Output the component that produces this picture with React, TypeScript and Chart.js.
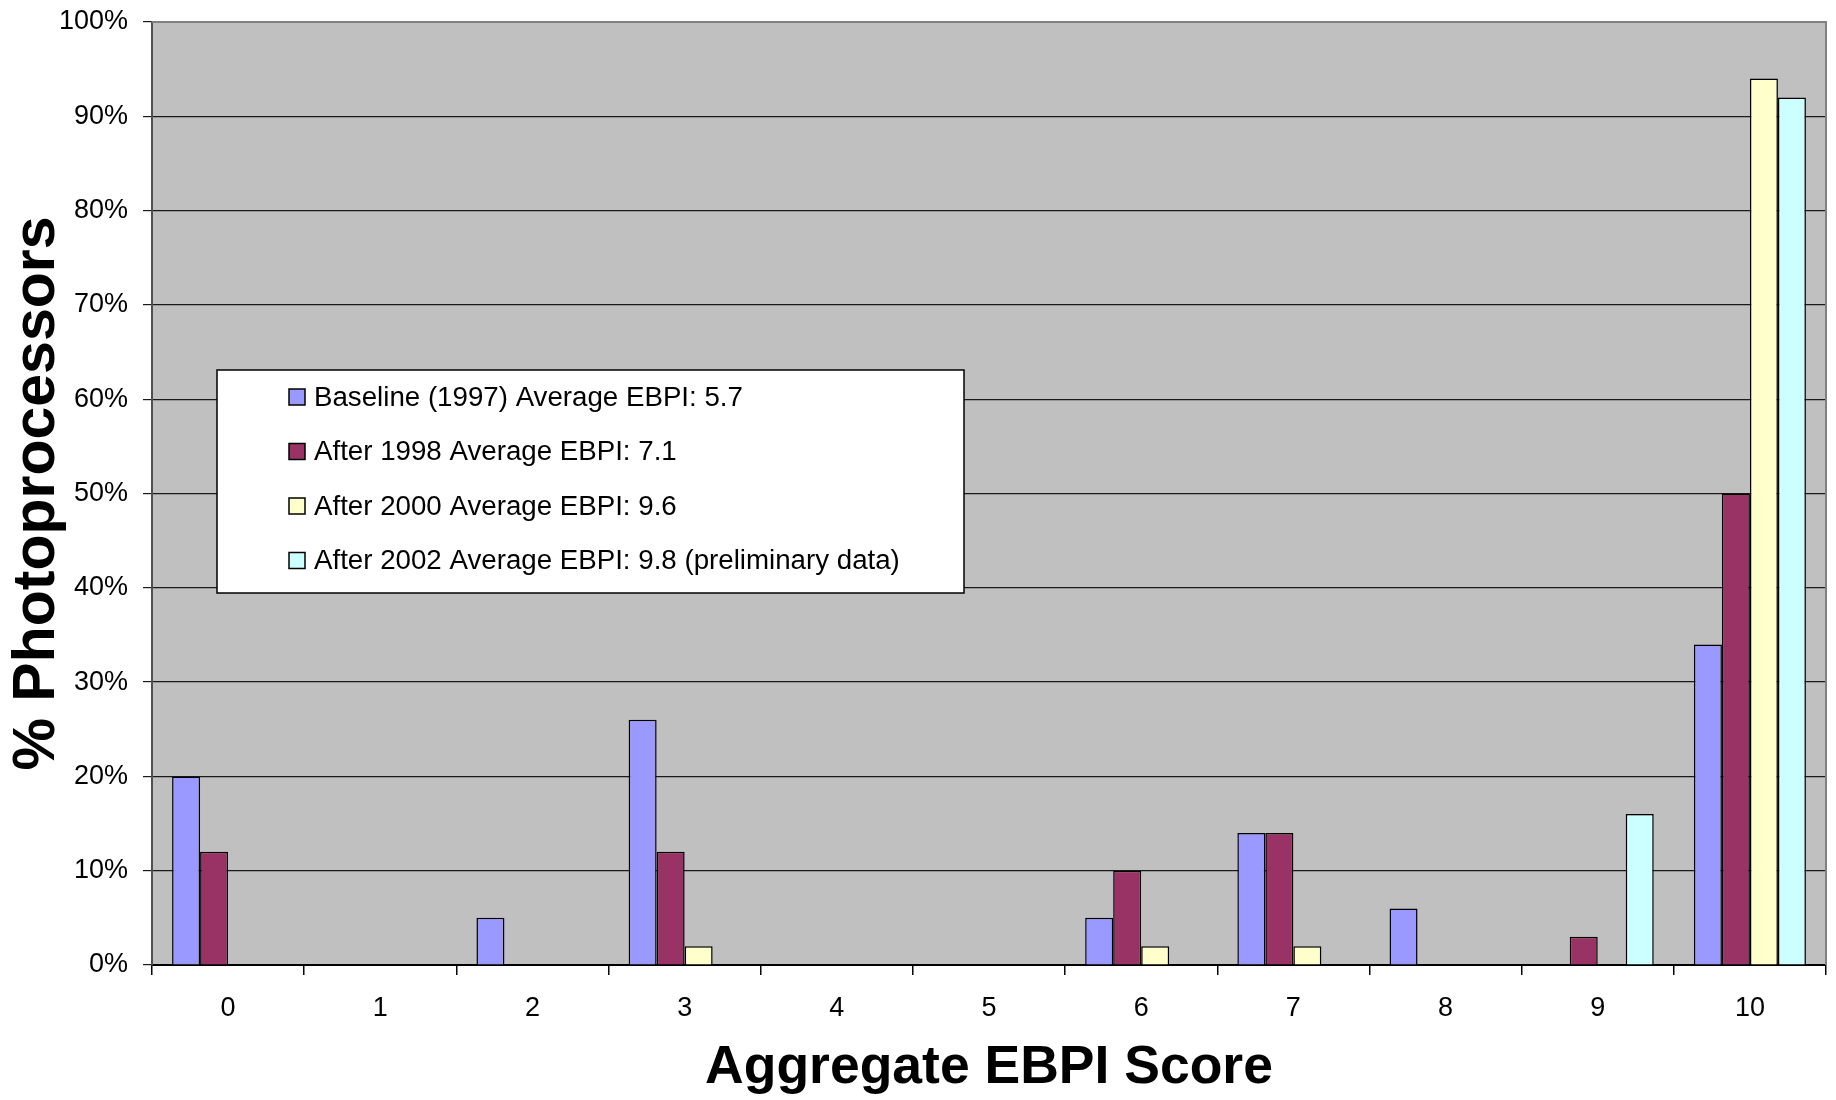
import React, { useEffect, useRef } from "react";
import { Chart, registerables } from "chart.js";

Chart.register(...registerables);

const categories = ["0", "1", "2", "3", "4", "5", "6", "7", "8", "9", "10"];
const baseline1997 = [20, 0, 5, 26, 0, 0, 5, 14, 6, 0, 34];
const after1998 = [12, 0, 0, 12, 0, 0, 10, 14, 0, 3, 50];
const after2000 = [0, 0, 0, 2, 0, 0, 2, 2, 0, 0, 94];
const after2002 = [0, 0, 0, 0, 0, 0, 0, 0, 0, 16, 92];
const seriesLabels = [
  "Baseline (1997) Average EBPI: 5.7",
  "After 1998 Average EBPI: 7.1",
  "After 2000 Average EBPI: 9.6",
  "After 2002 Average EBPI: 9.8 (preliminary data)",
];
const seriesColors = ["#9999FF", "#993366", "#FFFFCC", "#CCFFFF"];
const xTitle = "Aggregate EBPI Score";
const yTitle = "% Photoprocessors";
const yMin = 0;
const yMax = 100;
const yStep = 10;

const FONT = "'Liberation Sans', Arial, sans-serif";

const plotBackground = {
  id: "plotBackground",
  beforeDraw(chart: any) {
    const { ctx, chartArea } = chart;
    ctx.save();
    ctx.fillStyle = "#C0C0C0";
    ctx.fillRect(chartArea.left, chartArea.top, chartArea.right - chartArea.left, chartArea.bottom - chartArea.top);
    ctx.restore();
  },
};

const plotFrame = {
  id: "plotFrame",
  afterDraw(chart: any) {
    const { ctx, chartArea } = chart;
    ctx.save();
    ctx.strokeStyle = "#808080";
    ctx.lineWidth = 2;
    ctx.beginPath();
    ctx.moveTo(chartArea.left, chartArea.top);
    ctx.lineTo(chartArea.right, chartArea.top);
    ctx.lineTo(chartArea.right, chartArea.bottom);
    ctx.stroke();
    ctx.restore();
  },
};

const boxLegend = {
  id: "boxLegend",
  afterDraw(chart: any) {
    const { ctx, chartArea } = chart;
    const x = chartArea.left + 65;
    const y = chartArea.top + 348;
    const w = 747;
    const h = 223;
    ctx.save();
    ctx.fillStyle = "#FFFFFF";
    ctx.fillRect(x, y, w, h);
    ctx.strokeStyle = "#000000";
    ctx.lineWidth = 1.5;
    ctx.strokeRect(x, y, w, h);
    ctx.font = `27.7px ${FONT}`;
    ctx.textBaseline = "middle";
    ctx.textAlign = "left";
    chart.data.datasets.forEach((ds: any, i: number) => {
      const cy = y + 27 + i * 54.5;
      ctx.fillStyle = ds.backgroundColor;
      ctx.fillRect(x + 72, cy - 8, 16, 16);
      ctx.strokeStyle = "#000000";
      ctx.lineWidth = 1.5;
      ctx.strokeRect(x + 72, cy - 8, 16, 16);
      ctx.fillStyle = "#000000";
      ctx.fillText(ds.label, x + 97, cy + 1);
    });
    ctx.restore();
  },
};

export default function App() {
  const canvasRef = useRef<HTMLCanvasElement | null>(null);

  useEffect(() => {
    document.body.style.margin = "0";
    const canvas = canvasRef.current;
    if (!canvas) return;
    const seriesData = [baseline1997, after1998, after2000, after2002];
    const chart = new Chart(canvas, {
      type: "bar",
      data: {
        labels: categories,
        datasets: seriesData.map((d, i) => ({
          label: seriesLabels[i],
          data: d,
          backgroundColor: seriesColors[i],
          borderColor: "#000000",
          borderWidth: 1.5,
          borderSkipped: "start",
          categoryPercentage: 0.736,
          barPercentage: 1,
        })),
      },
      options: {
        animation: false,
        responsive: true,
        maintainAspectRatio: false,
        devicePixelRatio: 1,
        layout: { padding: { top: 22, right: 10, left: 0, bottom: 0 } },
        plugins: {
          legend: { display: false },
          tooltip: { enabled: false },
          title: { display: false },
        },
        scales: {
          x: {
            afterFit: (s: any) => {
              s.height = 135;
            },
            grid: {
              offset: true,
              drawOnChartArea: false,
              drawTicks: true,
              tickLength: 10,
              color: "#000000",
              lineWidth: 1.5,
            },
            border: { display: true, color: "#000000", width: 2 },
            ticks: {
              color: "#000000",
              font: { family: FONT, size: 27 },
              padding: 17,
              maxRotation: 0,
            },
            title: {
              display: true,
              text: xTitle,
              color: "#000000",
              font: { family: FONT, size: 53.5, weight: "bold", lineHeight: 1.1 },
              padding: { top: 0, bottom: 2 },
            },
          },
          y: {
            min: yMin,
            max: yMax,
            afterFit: (s: any) => {
              s.width = 152;
            },
            grid: {
              color: "#1A1A1A",
              lineWidth: 1.2,
              drawTicks: true,
              tickLength: 9,
            },
            border: { display: true, color: "#505050", width: 2 },
            ticks: {
              stepSize: yStep,
              color: "#000000",
              font: { family: FONT, size: 27, lineHeight: 0.4 },
              padding: 15,
              callback: (v: any) => `${v}%`,
            },
            title: {
              display: true,
              text: yTitle,
              color: "#000000",
              font: { family: FONT, size: 59, weight: "bold", lineHeight: 1.2 },
              padding: { top: 2, bottom: 0 },
            },
          },
        },
      },
      plugins: [plotBackground, plotFrame, boxLegend],
    });
    return () => {
      chart.destroy();
    };
  }, []);

  return (
    <div style={{ position: "absolute", left: 0, top: 0, width: 1836, height: 1100, background: "#FFFFFF" }}>
      <canvas ref={canvasRef} />
    </div>
  );
}
